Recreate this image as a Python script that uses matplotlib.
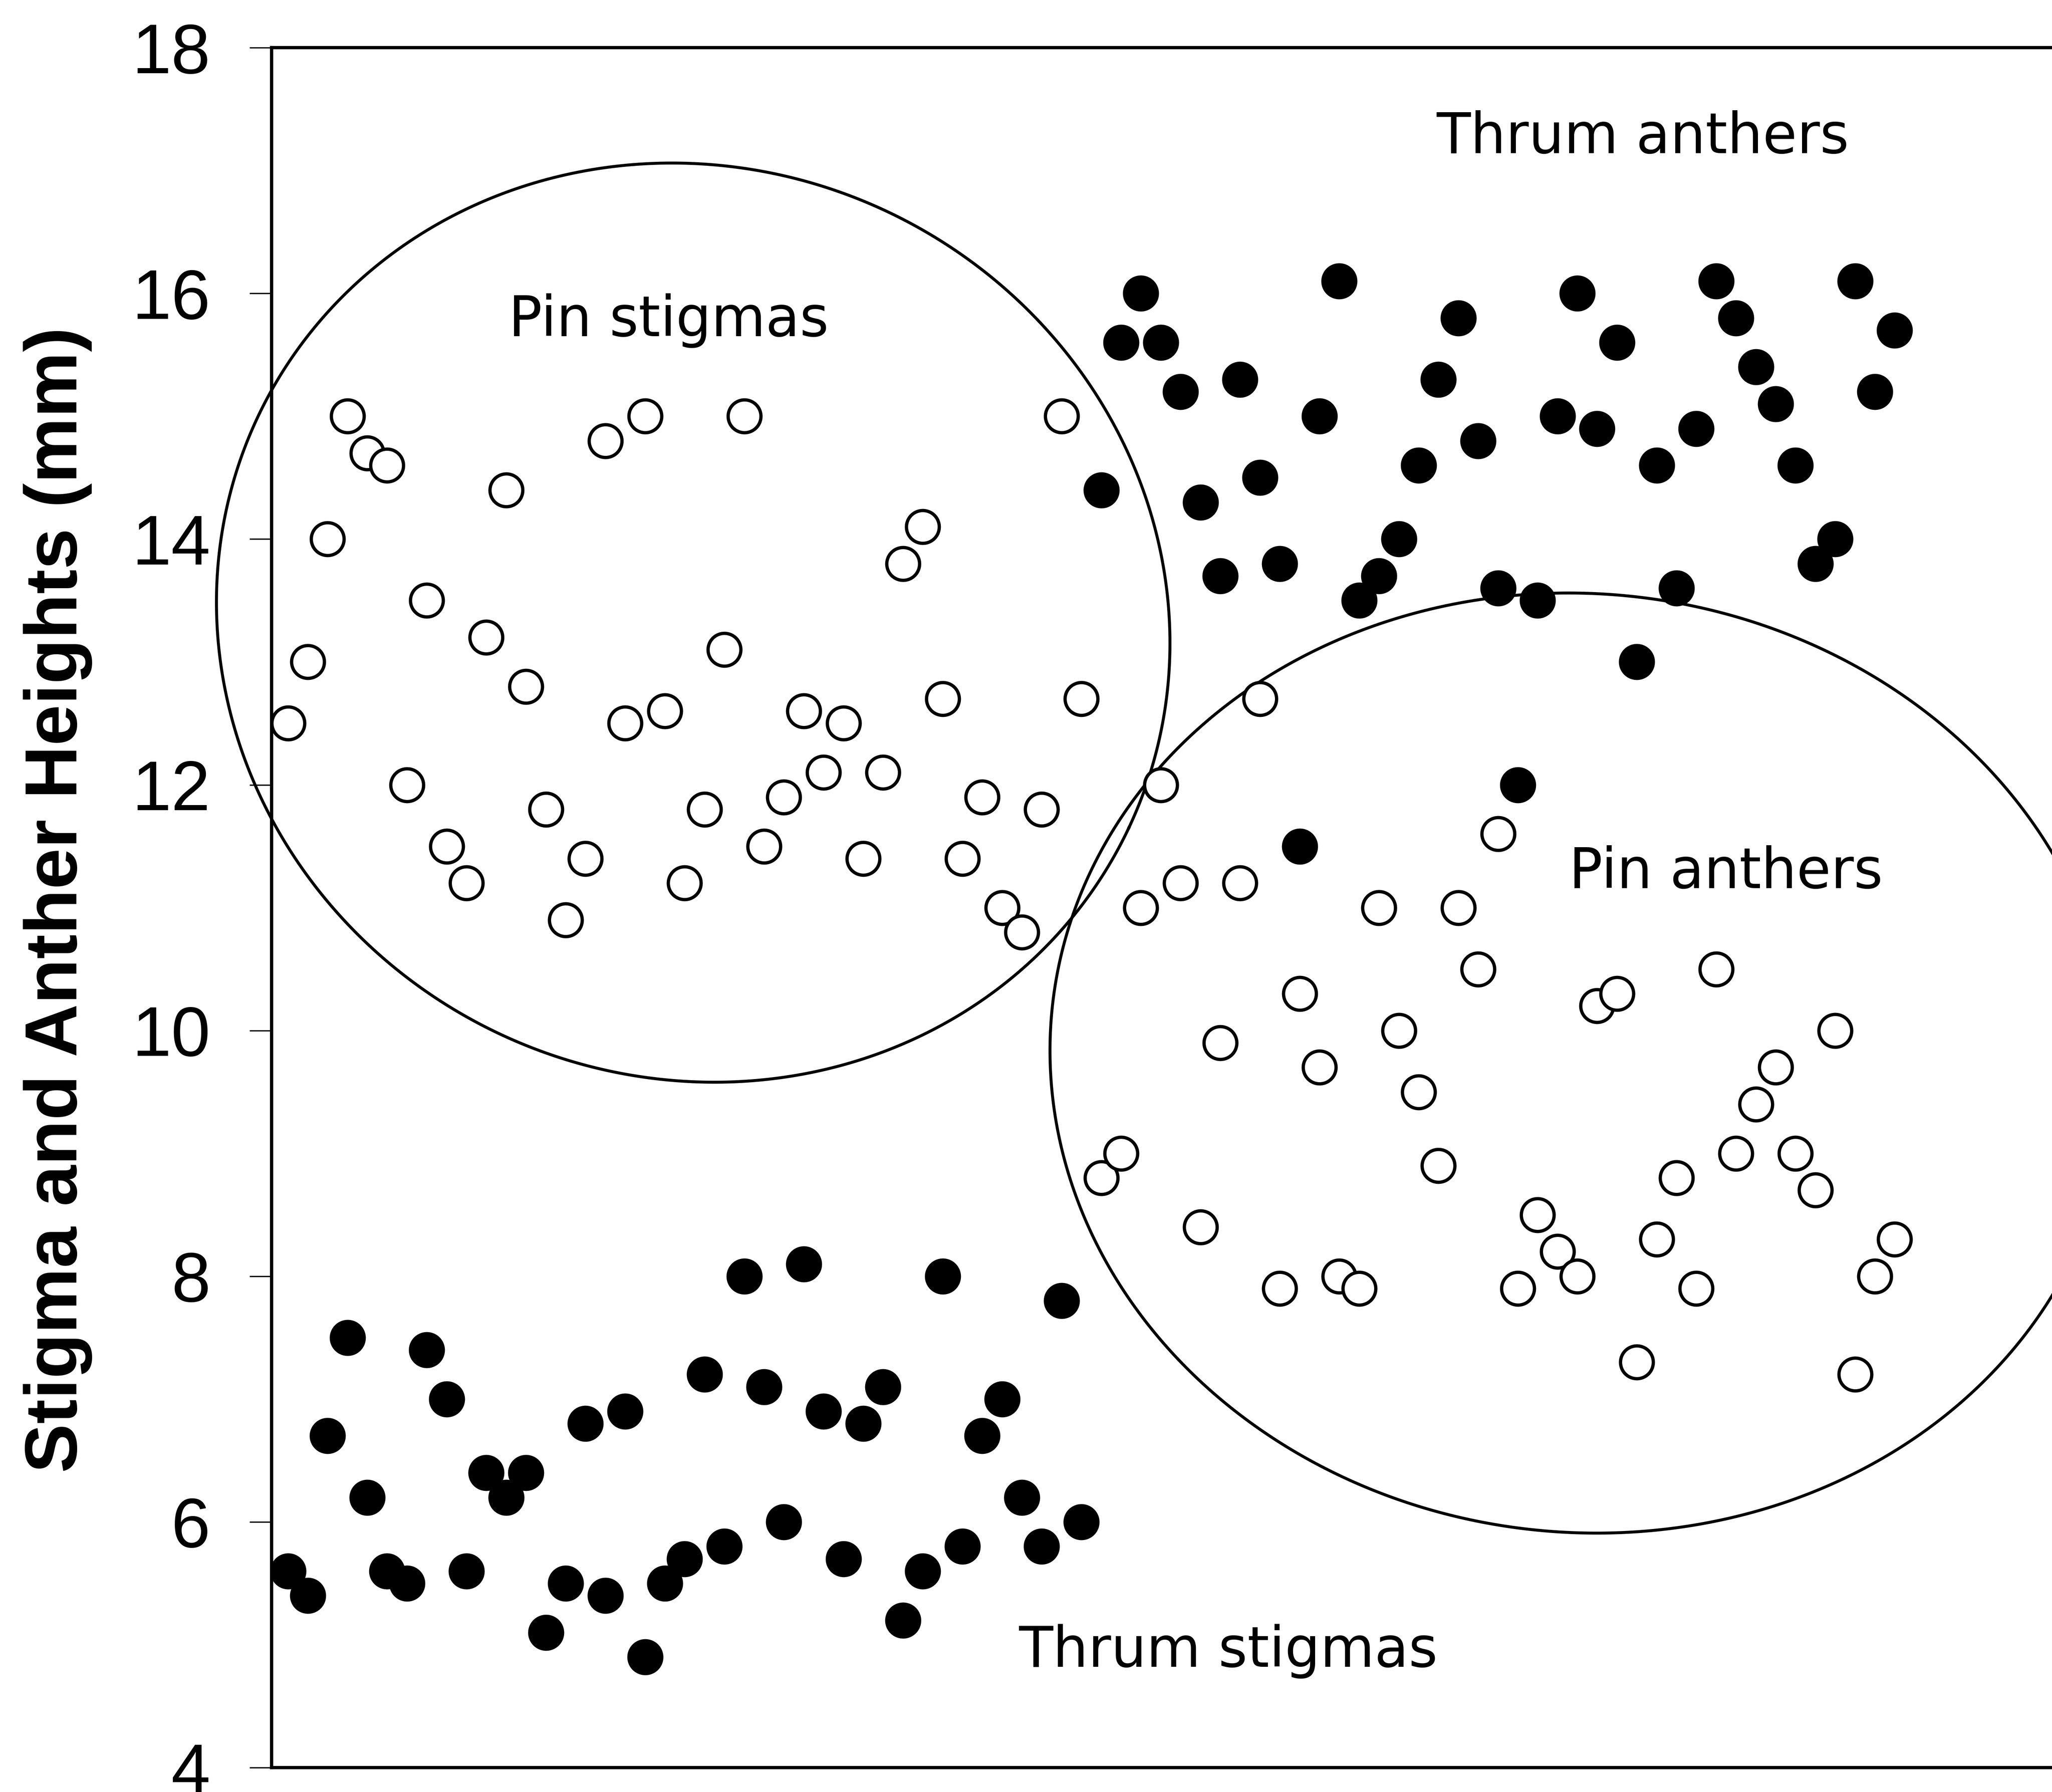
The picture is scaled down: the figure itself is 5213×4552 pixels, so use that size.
import numpy as np
import matplotlib.pyplot as plt

# heights (mm) per plant
pin_stigmas = [12.5, 13.0, 14.0, 15.0, 14.7, 14.6, 12.0, 13.5, 11.5, 11.2,
               13.2, 14.4, 12.8, 11.8, 10.9, 11.4, 14.8, 12.5, 15.0, 12.6,
               11.2, 11.8, 13.1, 15.0, 11.5, 11.9, 12.6, 12.1, 12.5, 11.4,
               12.1, 13.8, 14.1, 12.7, 11.4, 11.9, 11.0, 10.8, 11.8, 15.0, 12.7]
thrum_stigmas = [5.6, 5.4, 6.7, 7.5, 6.2, 5.6, 5.5, 7.4, 7.0, 5.6,
                 6.4, 6.2, 6.4, 5.1, 5.5, 6.8, 5.4, 6.9, 4.9, 5.5,
                 5.7, 7.2, 5.8, 8.0, 7.1, 6.0, 8.1, 6.9, 5.7, 6.8,
                 7.1, 5.2, 5.6, 8.0, 5.8, 6.7, 7.0, 6.2, 5.8, 7.8, 6.0]
thrum_anthers = [14.4, 15.6, 16.0, 15.6, 15.2, 14.3, 13.7, 15.3, 14.5, 13.8,
                 11.5, 15.0, 16.1, 13.5, 13.7, 14.0, 14.6, 15.3, 15.8, 14.8,
                 13.6, 12.0, 13.5, 15.0, 16.0, 14.9, 15.6, 13.0, 14.6, 13.6,
                 14.9, 16.1, 15.8, 15.4, 15.1, 14.6, 13.8, 14.0, 16.1, 15.2, 15.7]
pin_anthers = [8.8, 9.0, 11.0, 12.0, 11.2, 8.4, 9.9, 11.2, 12.7, 7.9,
               10.3, 9.7, 8.0, 7.9, 11.0, 10.0, 9.5, 8.9, 11.0, 10.5,
               11.6, 7.9, 8.5, 8.2, 8.0, 10.2, 10.3, 7.3, 8.3, 8.8,
               7.9, 10.5, 9.0, 9.4, 9.7, 9.0, 8.7, 10.0, 7.2, 8.0, 8.3]

pin_plants = np.arange(1, 42)      # pin morph plants
thrum_plants = np.arange(42, 83)   # thrum morph plants

y_ticks = [4, 6, 8, 10, 12, 14, 16, 18]

W, H, DPI = 5213, 4552, 300
fig = plt.figure(figsize=(W / DPI, H / DPI), dpi=DPI)
ax = fig.add_axes([0.1324, 0.0136, 0.8676, 0.9598])
ax.set_xlim(0.18, 89.93)
ax.set_ylim(4, 18)

# circled groups: centre (data), radii in y units, tilt on screen (deg)
groups = [(21.43, 13.32, 3.92, 3.70, -25.2),
          (66.26, 9.735, 4.34, 3.82, -6.0)]


def draw_ring(cx, cy, a, b, angle):
    p0 = ax.transData.transform((0, 0))
    p1 = ax.transData.transform((1, 1))
    k = (p1[1] - p0[1]) / (p1[0] - p0[0])
    t = np.linspace(0, 2 * np.pi, 600)
    th = np.radians(angle)
    u, v = a * np.cos(t), b * np.sin(t)
    dx = u * np.cos(th) - v * np.sin(th)
    dy = u * np.sin(th) + v * np.cos(th)
    ax.plot(cx + dx * k, cy + dy, color="black", lw=1.8,
            clip_on=False, zorder=2)


for g in groups:
    draw_ring(*g)

dot = dict(ls="none", marker="o", ms=20, mew=2, mec="black", zorder=3,
           clip_on=False)
ax.plot(pin_plants, pin_stigmas, mfc="white", **dot)
ax.plot(pin_plants, thrum_stigmas, mfc="black", **dot)
ax.plot(thrum_plants, thrum_anthers, mfc="black", **dot)
ax.plot(thrum_plants, pin_anthers, mfc="white", **dot)

note_font = dict(family="DejaVu Sans", fontsize=34, ha="center",
                 va="baseline", zorder=4)
ax.text(69.3, 17.14, "Thrum anthers", **note_font)
ax.text(20.2, 15.65, "Pin stigmas", **note_font)
ax.text(73.5, 11.16, "Pin anthers", **note_font)
ax.text(48.4, 4.82, "Thrum stigmas", **note_font)

ax.set_xticks([])
ax.set_yticks(y_ticks)
ax.set_yticklabels([str(v) for v in y_ticks], family="Liberation Sans",
                   fontsize=43)
ax.tick_params(axis="y", direction="out", length=13.4, width=0.8, pad=24)

for side in ["left", "top", "bottom"]:
    ax.spines[side].set_linewidth(2.0)
ax.spines["right"].set_visible(False)

ax.set_ylabel("Stigma and Anther Heights (mm)", family="Liberation Sans",
              fontweight="bold", fontsize=45, va="center")
ax.yaxis.set_label_coords(-0.12, 0.5045)

fig.savefig("out.png", dpi=DPI)
